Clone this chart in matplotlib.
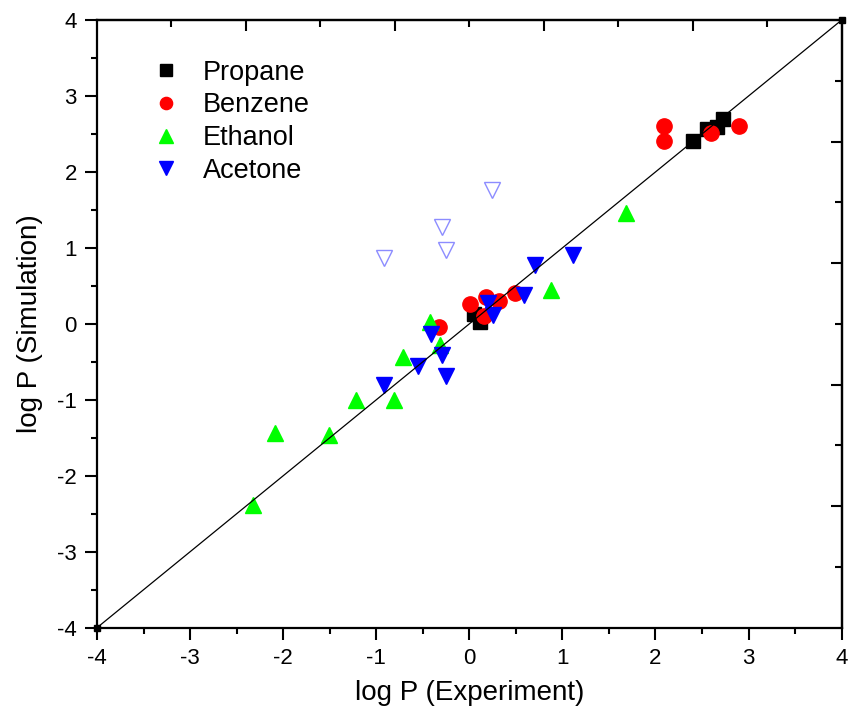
import numpy as np
import matplotlib.pyplot as plt
from matplotlib.ticker import MultipleLocator, FixedLocator, NullFormatter

plt.rcParams['font.family'] = ['Liberation Sans', 'DejaVu Sans']
plt.rcParams['axes.unicode_minus'] = False

# log P values
propane_x = [0.05, 0.11, 2.40, 2.55, 2.66, 2.73]
propane_y = [0.13, 0.02, 2.41, 2.56, 2.59, 2.70]

benzene_x = [-0.33, 0.01, 0.18, 0.16, 0.32, 0.49, 2.09, 2.09, 2.60, 2.90]
benzene_y = [-0.04, 0.26, 0.36, 0.10, 0.30, 0.41, 2.61, 2.41, 2.51, 2.61]

ethanol_x = [-2.32, -2.09, -1.51, -1.22, -0.81, -0.71, -0.42, -0.31, 0.88, 1.68]
ethanol_y = [-2.38, -1.44, -1.46, -1.00, -1.00, -0.44, 0.03, -0.28, 0.44, 1.46]

acetone_x = [-0.92, -0.55, -0.41, -0.29, -0.25, 0.20, 0.25, 0.59, 0.71, 1.11]
acetone_y = [-0.81, -0.55, -0.13, -0.41, -0.69, 0.27, 0.12, 0.38, 0.77, 0.90]

# open triangles (acetone outliers)
outlier_x = [-0.92, -0.29, -0.25, 0.24]
outlier_y = [0.87, 1.28, 0.97, 1.76]

diag = [-4, 4]


def main():
    fig = plt.figure(figsize=(8.5, 7.17), dpi=100)
    ax = fig.add_axes([0.1141, 0.1245, 0.8761, 0.8476])

    ax.plot(propane_x, propane_y, 's', color='black', ms=10, label='Propane')
    ax.plot(benzene_x, benzene_y, 'o', color='red', ms=11, label='Benzene')
    ax.plot(ethanol_x, ethanol_y, '^', color='#00ff00', ms=12, label='Ethanol')
    ax.plot(acetone_x, acetone_y, 'v', color='blue', ms=12, label='Acetone')
    ax.plot(outlier_x, outlier_y, 'v', mfc='none', mec='#8c8cff', mew=1.0, ms=12)

    # y = x reference line
    ax.plot(diag, diag, '-', color='black', lw=0.9, marker='s', ms=5,
            clip_on=False, zorder=5)

    ax.set_xlim(-4, 4)
    ax.set_ylim(-4, 4)
    ax.set_xlabel('log P (Experiment)', fontsize=20, labelpad=8)
    ax.set_ylabel('log P (Simulation)', fontsize=20, labelpad=10)

    for s in ax.spines.values():
        s.set_linewidth(1.6)

    ax.xaxis.set_major_locator(MultipleLocator(1))
    ax.yaxis.set_major_locator(MultipleLocator(1))
    ax.xaxis.set_minor_locator(MultipleLocator(0.5))
    ax.yaxis.set_minor_locator(MultipleLocator(0.5))
    ax.tick_params(which='major', direction='out', length=8.5, width=1.5,
                   labelsize=16, pad=6)
    ax.tick_params(which='minor', direction='out', length=4.5, width=1.5)

    # inward ticks on the top and right edges
    tx = ax.secondary_xaxis('top')
    ty = ax.secondary_yaxis('right')
    for sec, axis in ((tx, tx.xaxis), (ty, ty.yaxis)):
        axis.set_major_locator(FixedLocator([-2.4, -0.8, 0.8, 2.4]))
        axis.set_minor_locator(FixedLocator([-3.2, -1.6, 0.0, 1.6, 3.2]))
        axis.set_major_formatter(NullFormatter())
        axis.set_tick_params(which='major', direction='in', length=8,
                             width=1.5)
        axis.set_tick_params(which='minor', direction='in', length=5,
                             width=1.5)
        for s in sec.spines.values():
            s.set_linewidth(1.6)

    ax.legend(loc='upper left', bbox_to_anchor=(0.042, 0.975),
              frameon=False, fontsize=19.5, markerscale=0.8,
              handletextpad=0.85, labelspacing=0.25, handlelength=1.0)

    plt.savefig('out.png', dpi=100)


if __name__ == '__main__':
    main()
